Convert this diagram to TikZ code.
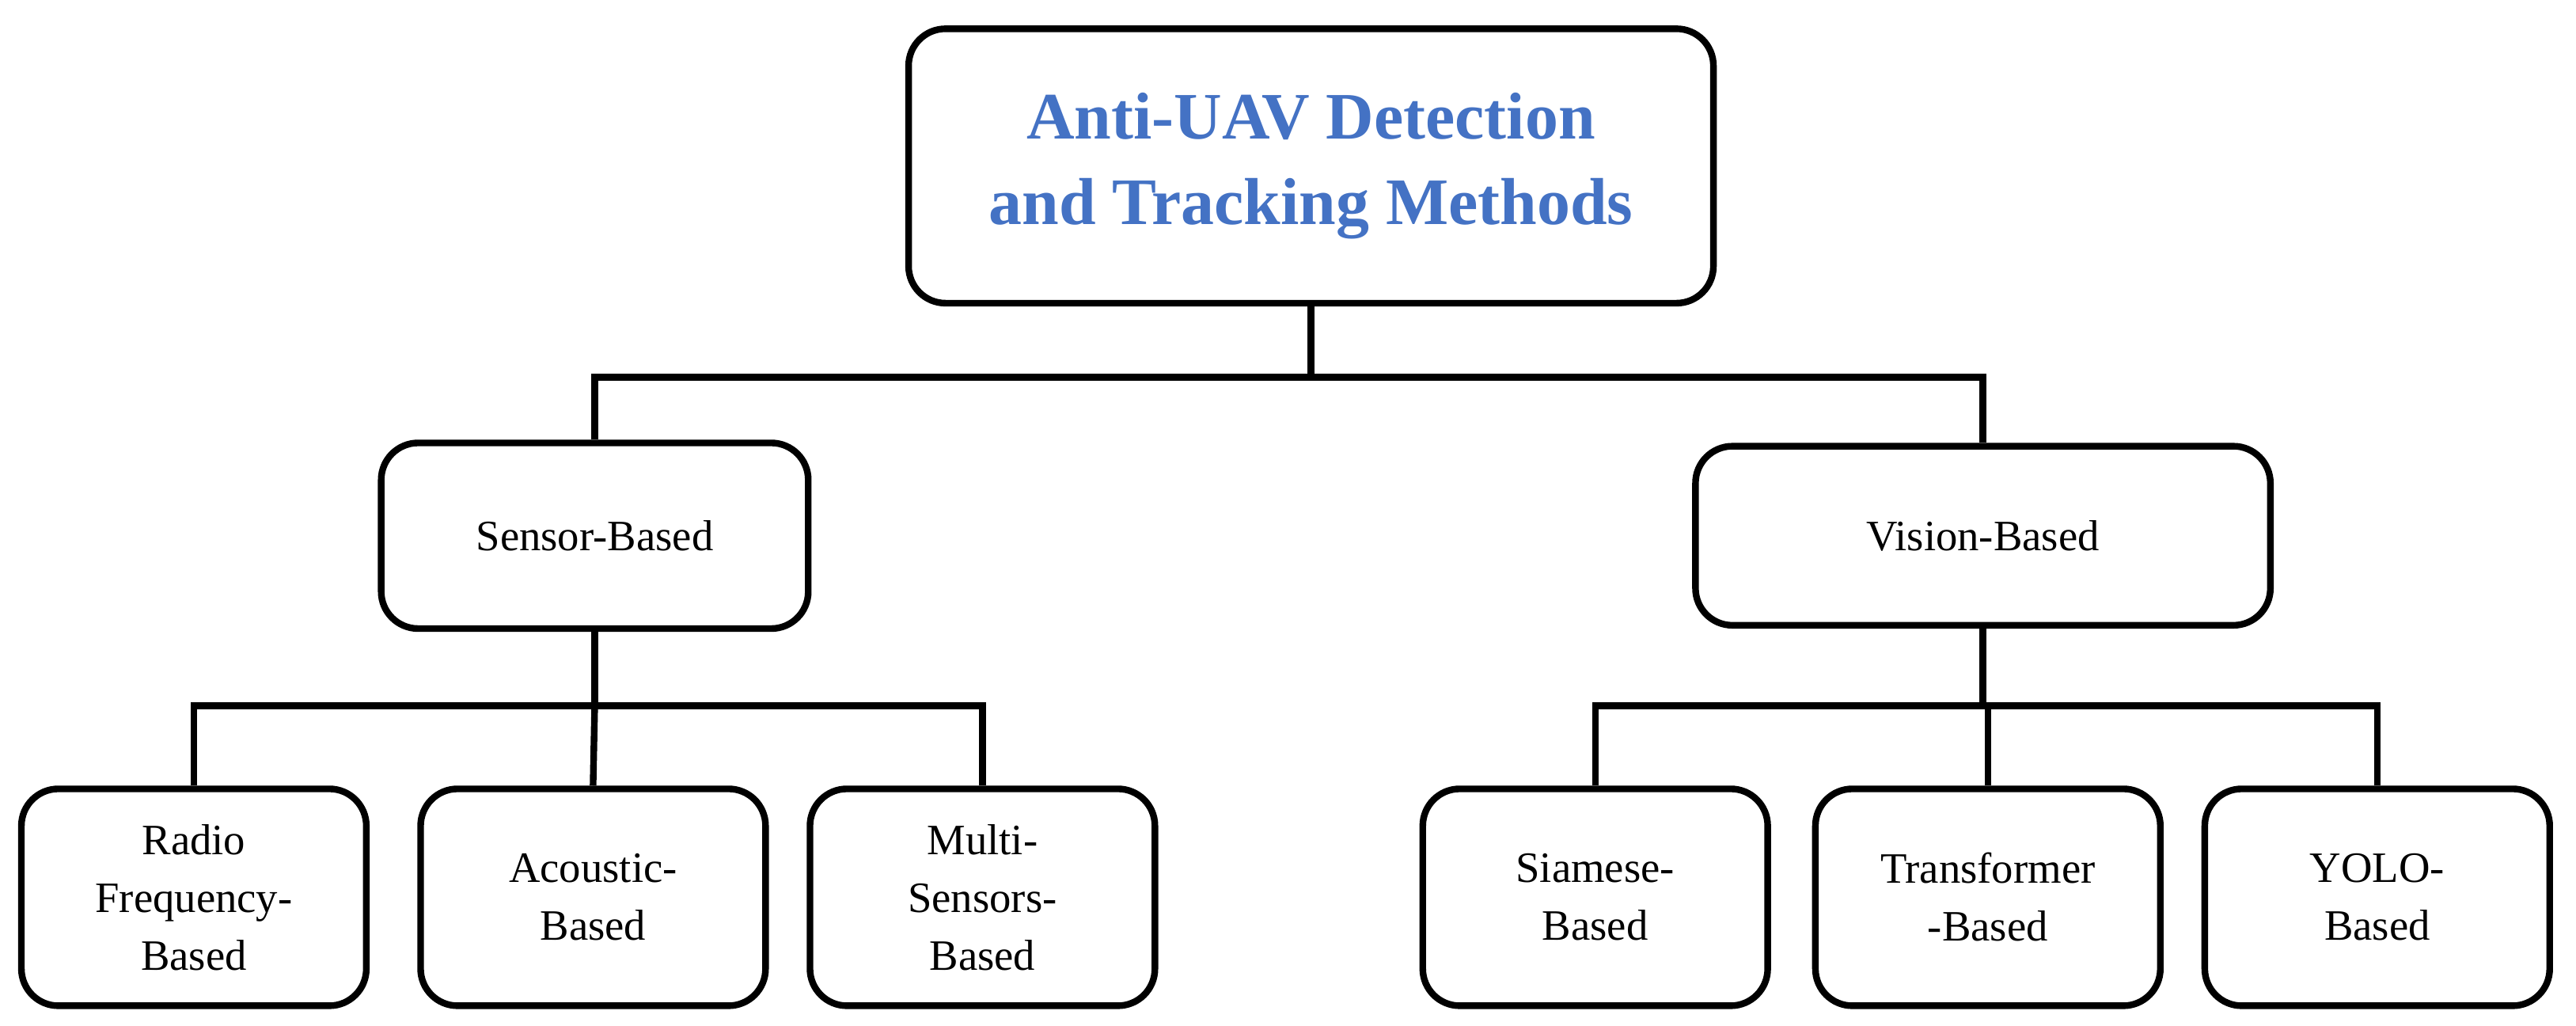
\documentclass[tikz,border=0pt]{standalone}
\usepackage{fontspec}
\setmainfont{Liberation Serif}
\definecolor{titleblue}{HTML}{4472C4}
\begin{document}
\begin{tikzpicture}[x=0.02cm,y=-0.02cm,
 box/.style={draw,line width=2.3pt,rounded corners=0.45cm,align=center,font=\fontsize{15}{20}\selectfont,inner sep=0pt},
 conn/.style={line width=2.3pt}]
\useasboundingbox (0,0) rectangle (1568,624);
\node[box,minimum width=9.8cm,minimum height=3.34cm,text=titleblue,font=\bfseries\fontsize{23}{29.5}\selectfont] (root) at (798,101) {Anti-UAV Detection\\and Tracking Methods};
\node[box,minimum width=5.2cm,minimum height=2.26cm] (sens) at (362,326) {Sensor-Based};
\node[box,minimum width=7cm,minimum height=2.18cm] (vis) at (1207,326) {Vision-Based};
\foreach \n/\x/\t in {rf/118/{Radio\\Frequency-\\Based},ac/361/{Acoustic-\\Based},ms/598/{Multi-\\Sensors-\\Based},si/971/{Siamese-\\Based},tr/1210/{Transformer\\-Based},yo/1447/{YOLO-\\Based}}
  \node[box,minimum width=4.2cm,minimum height=2.64cm] (\n) at (\x,546) {\t};
\draw[conn] (root.south) -- ++(0,43) coordinate (j0);
\draw[conn] (sens.north) |- (j0) -| (vis.north);
\draw[conn] (sens.south) -- ++(0,45) coordinate (j1);
\draw[conn] (rf.north) |- (j1) -| (ms.north);
\draw[conn] (ac.north) -- (j1);
\draw[conn] (vis.south) -- ++(0,47) coordinate (j2);
\draw[conn] (si.north) |- (j2) -| (yo.north);
\draw[conn] (tr.north) -- (tr.north|-j2);
\end{tikzpicture}
\end{document}
